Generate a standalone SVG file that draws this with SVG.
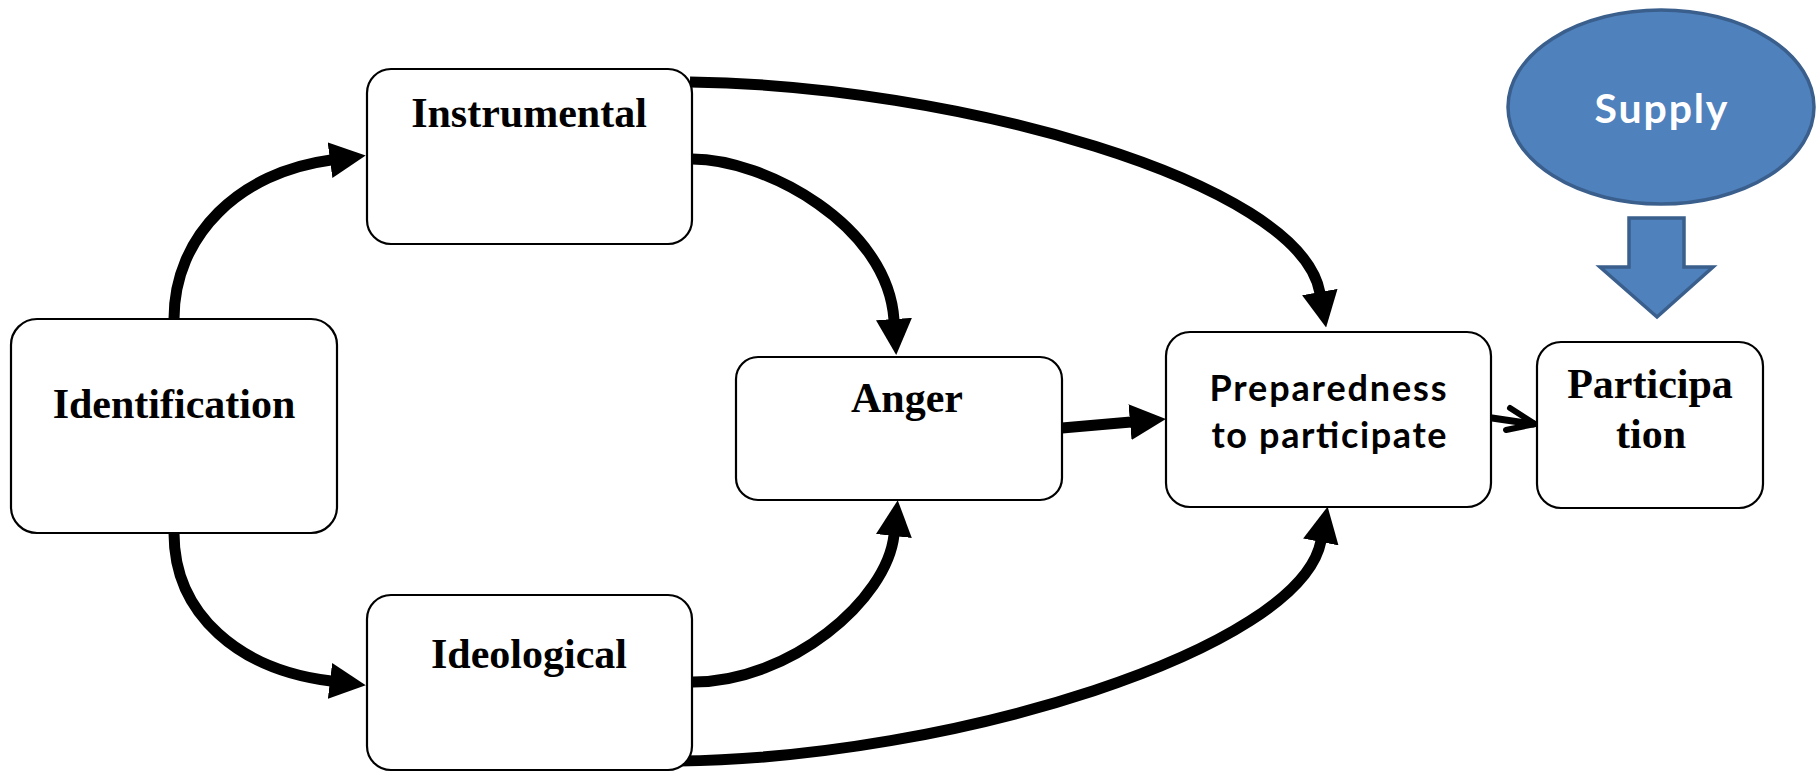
<svg xmlns="http://www.w3.org/2000/svg" width="1820" height="772" viewBox="0 0 1820 772">
<defs>
<style>
.box{fill:#fff;stroke:#000;stroke-width:2.2}
.serif{font-family:"Liberation Serif","Times New Roman",serif;font-weight:bold;font-size:42px;fill:#000;text-anchor:middle}
.sans{font-family:Lato,"Open Sans","Liberation Sans",sans-serif;font-weight:bold;fill:#000;text-anchor:middle}
.conn{fill:none;stroke:#000;stroke-width:11}
.blue{fill:#4F81BD;stroke:#3A5F8C;stroke-width:3.5}
</style>
<marker id="ah" markerUnits="userSpaceOnUse" viewBox="0 0 36 36" refX="1" refY="18" markerWidth="36" markerHeight="36" orient="auto">
<path d="M0,0 L36,18 L0,36 Z" fill="#000"/>
</marker>
</defs>
<rect width="1820" height="772" fill="#fff"/>
<g id="connectors">
<path class="conn" d="M174,319 C174,235 240,172 331,160" marker-end="url(#ah)"/>
<path class="conn" d="M174,533 C174,615 240,670 331,681" marker-end="url(#ah)"/>
<path class="conn" d="M692,159 C765,159 888,225 894,320" marker-end="url(#ah)"/>
<path class="conn" d="M690,82 C950,85 1300,180 1320,293" marker-end="url(#ah)"/>
<path class="conn" d="M1062,428 L1131,422" marker-end="url(#ah)"/>
<path class="conn" d="M693,682 C790,682 887,600 894,535" marker-end="url(#ah)"/>
<path class="conn" d="M679,761 C950,758 1300,650 1321,541" marker-end="url(#ah)"/>
<g fill="none" stroke="#000" stroke-linecap="round" stroke-linejoin="round">
<path d="M1492,418 L1533,424" stroke-width="7"/>
<path d="M1510,408 L1535,424 L1506,430" stroke-width="6"/>
</g>
</g>
<g id="identification">
<rect class="box" x="11" y="319" width="326" height="214" rx="26"/>
<text class="serif" x="174" y="418">Identification</text>
</g>
<g id="instrumental">
<rect class="box" x="367" y="69" width="325" height="175" rx="24"/>
<text class="serif" x="529" y="127">Instrumental</text>
</g>
<g id="ideological">
<rect class="box" x="367" y="595" width="325" height="175" rx="24"/>
<text class="serif" x="529" y="668">Ideological</text>
</g>
<g id="anger">
<rect class="box" x="736" y="357" width="326" height="143" rx="22"/>
<text class="serif" x="907" y="412">Anger</text>
</g>
<g id="preparedness">
<rect class="box" x="1166" y="332" width="325" height="175" rx="24"/>
<text class="sans" font-size="36" x="1328" y="401" textLength="237" lengthAdjust="spacing">Preparedness</text>
<text class="sans" font-size="36" x="1329" y="448" textLength="235" lengthAdjust="spacing">to participate</text>
</g>
<g id="participation">
<rect class="box" x="1537" y="342" width="226" height="166" rx="24"/>
<text class="serif" x="1650" y="398">Participa</text>
<text class="serif" x="1651" y="448">tion</text>
</g>
<g id="supply">
<ellipse class="blue" cx="1661" cy="107" rx="153" ry="97"/>
<text class="sans" font-size="41" x="1661" y="123" style="fill:#fff" textLength="133" lengthAdjust="spacing">Supply</text>
</g>
<g id="supply-arrow">
<polygon class="blue" points="1629,218 1684,218 1684,267 1713,267 1657,317 1600,267 1629,267"/>
</g>
</svg>
